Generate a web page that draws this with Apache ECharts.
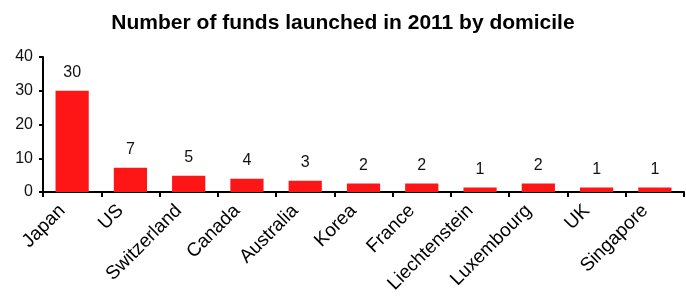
<!DOCTYPE html>
<html>
<head>
<meta charset="utf-8">
<script src="https://cdn.jsdelivr.net/npm/echarts@6/dist/echarts.min.js"></script>
<style>
  html, body { margin: 0; padding: 0; background: #fff; }
  #chart { width: 686px; height: 300px; }
</style>
</head>
<body>
<div id="chart"></div>
<script>
var categories = ['Japan', 'US', 'Switzerland', 'Canada', 'Australia', 'Korea', 'France', 'Liechtenstein', 'Luxembourg', 'UK', 'Singapore'];
// bar heights as drawn, and the numbers printed above them
var values = [30.0, 7.2, 4.8, 3.9, 3.3, 2.5, 2.5, 1.3, 2.5, 1.3, 1.3];
var shownLabels = ['30', '7', '5', '4', '3', '2', '2', '1', '2', '1', '1'];
var yTicks = [0, 10, 20, 30, 40];

var myChart = echarts.init(document.getElementById('chart'));

var option = {
    animation: false,
    title: {
        text: 'Number of funds launched in 2011 by domicile',
        left: 'center',
        top: 8,
        textStyle: {
            fontFamily: 'Liberation Sans',
            fontSize: 21,
            fontWeight: 'bold',
            color: '#000'
        }
    },
    grid: {
        left: 43,
        right: 2,
        top: 57,
        bottom: 108
    },
    xAxis: {
        type: 'category',
        data: categories,
        axisLine: { lineStyle: { color: '#000', width: 2 } },
        axisTick: { show: true, length: 5, lineStyle: { color: '#000', width: 2 } },
        axisLabel: {
            interval: 0,
            rotate: 45,
            margin: 6,
            padding: [0, 14, 0, 0],
            fontFamily: 'Liberation Sans',
            fontSize: 19,
            color: '#000'
        }
    },
    yAxis: {
        type: 'value',
        min: yTicks[0],
        max: yTicks[yTicks.length - 1],
        interval: 10,
        splitLine: { show: false },
        axisLine: { show: true, lineStyle: { color: '#000', width: 2 } },
        axisTick: { show: true, length: 4, lineStyle: { color: '#000', width: 2 } },
        axisLabel: {
            margin: 10,
            fontFamily: 'Liberation Sans',
            fontSize: 16,
            color: '#111'
        }
    },
    series: [{
        type: 'bar',
        data: values,
        barWidth: '57%',
        itemStyle: { color: '#fe1616' },
        label: {
            show: true,
            position: 'top',
            distance: 10,
            fontFamily: 'Liberation Sans',
            fontSize: 16,
            color: '#111',
            formatter: function (p) { return shownLabels[p.dataIndex]; }
        }
    }]
};

myChart.setOption(option);
</script>
</body>
</html>
